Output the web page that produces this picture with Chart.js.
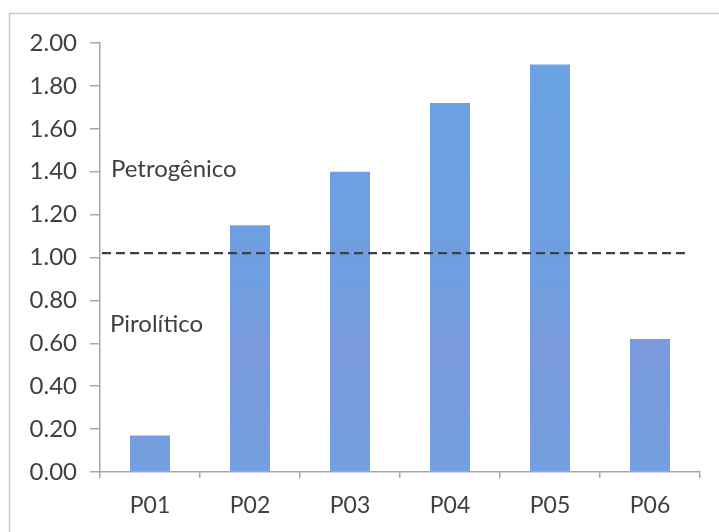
<!DOCTYPE html>
<html>
<head>
<meta charset="utf-8">
<style>
  html, body { margin: 0; padding: 0; background: #ffffff; }
  #wrap { width: 719px; height: 532px; position: relative; }
</style>
<script src="https://cdn.jsdelivr.net/npm/chart.js@4/dist/chart.umd.min.js"></script>
</head>
<body>
<div id="wrap"><canvas id="chart" width="719" height="532"></canvas></div>
<script>
// Sample points and their ratio values
const categories = ['P01', 'P02', 'P03', 'P04', 'P05', 'P06'];
const ratioValues = [0.17, 1.15, 1.40, 1.72, 1.90, 0.62];
// Boundary between pyrolytic and petrogenic sources
const thresholdValue = [1.02];
const regionLabels = ['Petrogênico', 'Pirolítico'];

const textColor = '#404040';
const axisColor = '#a8a8a8';
const fontFamily = 'Lato, "Open Sans", sans-serif';

// Frame around the whole chart, dashed threshold and region names
const overlayPlugin = {
  id: 'overlay',
  beforeDraw(chart) {
    const ctx = chart.ctx;
    ctx.save();
    ctx.fillStyle = '#ffffff';
    ctx.fillRect(0, 0, chart.width, chart.height);
    ctx.strokeStyle = '#c9c9d2';
    ctx.lineWidth = 1.5;
    ctx.strokeRect(9.5, 13.5, chart.width + 20, chart.height + 20);
    ctx.restore();
  },
  afterDatasetsDraw(chart) {
    const ctx = chart.ctx;
    const area = chart.chartArea;
    const yScale = chart.scales.y;
    const yLine = yScale.getPixelForValue(thresholdValue[0]);
    ctx.save();
    ctx.strokeStyle = '#3a4050';
    ctx.lineWidth = 2.2;
    ctx.setLineDash([9, 5]);
    ctx.beginPath();
    ctx.moveTo(area.left + 2, yLine);
    ctx.lineTo(area.right - 15, yLine);
    ctx.stroke();
    ctx.setLineDash([]);

    ctx.fillStyle = textColor;
    ctx.font = '24px ' + fontFamily;
    ctx.textAlign = 'left';
    ctx.textBaseline = 'alphabetic';
    ctx.fillText(regionLabels[0], area.left + 11, yLine - 76);
    ctx.fillText(regionLabels[1], area.left + 10, yLine + 79);
    ctx.restore();
  }
};

const ctx = document.getElementById('chart').getContext('2d');

function barFill(context) {
  const area = context.chart.chartArea;
  if (!area) return '#6c9fe0';
  const g = context.chart.ctx.createLinearGradient(0, area.top, 0, area.bottom);
  g.addColorStop(0, '#6aa3e3');
  g.addColorStop(0.55, '#6e9fe0');
  g.addColorStop(0.7, '#7a9ade');
  g.addColorStop(1, '#749fe0');
  return g;
}

new Chart(ctx, {
  type: 'bar',
  data: {
    labels: categories,
    datasets: [{
      data: ratioValues,
      backgroundColor: barFill,
      borderWidth: 0,
      barPercentage: 0.4,
      categoryPercentage: 1.0
    }]
  },
  options: {
    responsive: false,
    animation: false,
    devicePixelRatio: 1,
    layout: { padding: { left: 10, top: 43, right: 19, bottom: 0 } },
    plugins: {
      legend: { display: false },
      tooltip: { enabled: false },
      title: { display: false }
    },
    scales: {
      x: {
        afterFit(scale) { scale.height = 60; },
        grid: {
          offset: true,
          drawOnChartArea: false,
          drawTicks: true,
          tickLength: 6,
          color: axisColor,
          lineWidth: 1.5
        },
        border: { color: axisColor, width: 1.5 },
        ticks: {
          color: textColor,
          font: { family: fontFamily, size: 23 },
          padding: 14,
          maxRotation: 0
        }
      },
      y: {
        min: 0,
        max: 2,
        afterFit(scale) { scale.width = 90; },
        grid: {
          drawOnChartArea: false,
          drawTicks: true,
          tickLength: 10,
          color: axisColor,
          lineWidth: 1.5
        },
        border: { color: axisColor, width: 1.5 },
        ticks: {
          stepSize: 0.2,
          color: textColor,
          font: { family: fontFamily, size: 24 },
          padding: 13,
          callback: (v) => Number(v).toFixed(2)
        }
      }
    }
  },
  plugins: [overlayPlugin]
});
</script>
</body>
</html>
